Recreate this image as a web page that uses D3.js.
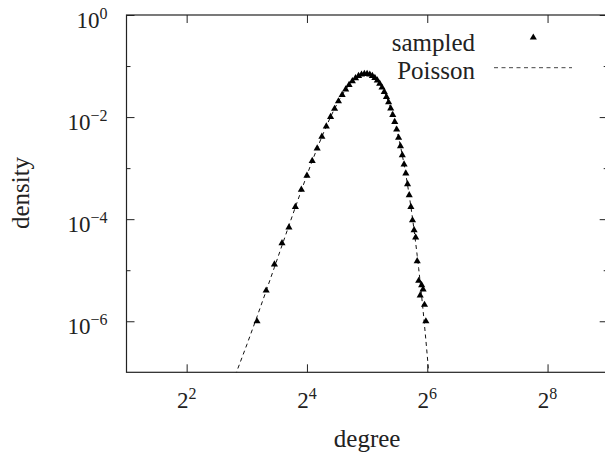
<!DOCTYPE html>
<html>
<head>
<meta charset="utf-8">
<script src="https://cdn.jsdelivr.net/npm/d3@7/dist/d3.min.js"></script>
<style>
	body { margin: 0; background: #fff; }
	svg { display: block; }
	svg text, svg tspan { font-family: "Liberation Serif", "Times New Roman", Times, serif !important; }
</style>
</head>
<body>
<script>
// sampled degree distribution
var sampledDegree = [9, 10, 11, 12, 13, 14, 15, 16, 17, 18, 19, 20, 21, 22, 23, 24, 25, 26, 27, 28,
	29, 30, 31, 32, 33, 34, 35, 36, 37, 38, 39, 40, 41, 42, 43, 44, 45, 46, 47, 48,
	49, 50, 51, 52, 53, 54, 55, 56, 57, 58, 59, 60, 61, 62, 63];
var sampledDensity = [1.0e-6, 4.0e-6, 1.3e-5, 3.4e-5, 6.9e-5, 1.74e-4, 3.8e-4, 7.1e-4, 1.39e-3, 2.43e-3,
	4.15e-3, 6.55e-3, 1.010e-2, 1.457e-2, 2.04e-2, 2.71e-2, 3.48e-2, 4.27e-2, 5.07e-2, 5.80e-2,
	6.39e-2, 6.82e-2, 7.03e-2, 7.04e-2, 6.83e-2, 6.42e-2, 5.87e-2, 5.22e-2, 4.51e-2, 3.80e-2,
	3.12e-2, 2.49e-2, 1.95e-2, 1.48e-2, 1.10e-2, 8.05e-3, 5.70e-3, 3.96e-3, 2.70e-3, 1.80e-3,
	1.18e-3, 7.87e-4, 4.85e-4, 2.96e-4, 1.74e-4, 9.5e-5, 6.1e-5, 4.4e-5, 1.5e-5, 6.2e-6,
	3.2e-6, 5.1e-6, 4.2e-6, 2.1e-6, 1.0e-6];

// Poisson reference curve
var poissonDegree = [7, 8, 9, 10, 11, 12, 13, 14, 15, 16, 17, 18, 19, 20, 21, 22, 23, 24, 25, 26,
	27, 28, 29, 30, 31, 32, 33, 34, 35, 36, 37, 38, 39, 40, 41, 42, 43, 44, 45, 46,
	47, 48, 49, 50, 51, 52, 53, 54, 55, 56, 57, 58, 59, 60, 61, 62, 63, 64, 65, 66];
var poissonDensity = [8.64e-8, 3.454e-7, 1.228e-6, 3.93e-6, 1.143e-5, 3.048e-5, 7.50e-5, 1.716e-4, 3.66e-4, 7.32e-4,
	1.378e-3, 2.449e-3, 4.124e-3, 6.60e-3, 1.006e-2, 1.463e-2, 2.035e-2, 2.714e-2, 3.475e-2, 4.277e-2,
	5.068e-2, 5.792e-2, 6.392e-2, 6.818e-2, 7.038e-2, 7.038e-2, 6.825e-2, 6.424e-2, 5.871e-2, 5.218e-2,
	4.514e-2, 3.801e-2, 3.119e-2, 2.495e-2, 1.948e-2, 1.484e-2, 1.104e-2, 8.03e-3, 5.71e-3, 3.97e-3,
	2.70e-3, 1.803e-3, 1.177e-3, 7.53e-4, 4.73e-4, 2.909e-4, 1.757e-4, 1.041e-4, 6.05e-5, 3.459e-5,
	1.942e-5, 1.072e-5, 5.81e-6, 3.10e-6, 1.626e-6, 8.39e-7, 4.26e-7, 2.131e-7, 1.049e-7, 5.09e-8];

// ticks
var xTicks = [4, 16, 64, 256];
var xTickExp = ["2", "4", "6", "8"];
var yTicks = [1, 1e-2, 1e-4, 1e-6];
var yTickExp = ["0", "\u22122", "\u22124", "\u22126"];
var yMinorTicks = [1e-1, 1e-3, 1e-5];

var legendNames = ["sampled", "Poisson"];

var margin = { left: 126.5, top: 15 };
var width = 481.2;
var height = 357.3;

var svg = d3.select("body")
	.append("svg")
	.attr("width", 605)
	.attr("height", 466);

var g = svg.append("g")
	.attr("transform", "translate(" + margin.left + ", " + margin.top + ")");

// every text gets the serif face directly
function label(parent, size){
	return parent.append("text")
		.attr("font-family", "Liberation Serif")
		.style("font-family", "'Liberation Serif'")
		.style("font-size", size + "px")
		.attr("fill", "#222");
}

// Scales
var x = d3.scaleLog()
	.base(2)
	.domain([2, 512])
	.range([0, width]);
var y = d3.scaleLog()
	.domain([1e-7, 1])
	.range([height, 0]);

// clip for the curve
g.append("clipPath")
	.attr("id", "plot-clip")
	.append("rect")
	.attr("width", width)
	.attr("height", height);

// Axes (inward ticks, mirrored on top/right)
function tickAxis(axisFn, values, size){
	return axisFn.tickValues(values).tickSizeInner(-size).tickSizeOuter(0).tickFormat("");
}

g.append("g")
	.attr("transform", "translate(0, " + height + ")")
	.call(tickAxis(d3.axisBottom(x), xTicks, 8));
g.append("g")
	.call(tickAxis(d3.axisTop(x), xTicks, 8));
g.append("g")
	.call(tickAxis(d3.axisLeft(y), yTicks, 8));
g.append("g")
	.call(tickAxis(d3.axisLeft(y), yMinorTicks, 4));
g.append("g")
	.attr("transform", "translate(" + width + ", 0)")
	.call(tickAxis(d3.axisRight(y), yTicks, 8));
g.append("g")
	.attr("transform", "translate(" + width + ", 0)")
	.call(tickAxis(d3.axisRight(y), yMinorTicks, 4));

g.selectAll(".domain").remove();
g.selectAll(".tick line").attr("stroke", "#222").attr("stroke-width", 1);

// frame
g.append("rect")
	.attr("width", width)
	.attr("height", height)
	.attr("fill", "none")
	.attr("stroke", "#222")
	.attr("stroke-width", 1.2);

// tick labels with superscripts
xTicks.forEach(function(v, i){
	var t = label(g, 23)
		.attr("x", x(v))
		.attr("y", height + 36)
		.attr("text-anchor", "middle");
	t.append("tspan").text("2");
	t.append("tspan").attr("dy", -9).style("font-size", "16px").text(xTickExp[i]);
});

yTicks.forEach(function(v, i){
	var t = label(g, 23)
		.attr("x", -19)
		.attr("y", y(v) + 12.5)
		.attr("text-anchor", "end");
	t.append("tspan").text("10");
	t.append("tspan").attr("dy", -9).style("font-size", "16px").text(yTickExp[i]);
});

// axis titles
label(g, 25)
	.attr("x", width / 2)
	.attr("y", height + 75)
	.attr("text-anchor", "middle")
	.text("degree");

label(g, 25)
	.attr("transform", "rotate(-90)")
	.attr("x", -(193 - margin.top))
	.attr("y", -margin.left + 29)
	.attr("text-anchor", "middle")
	.text("density");

// Poisson curve
var poissonData = poissonDegree.map(function(k, i){ return { k: k, p: poissonDensity[i] }; });
var line = d3.line()
	.x(function(d){ return x(d.k); })
	.y(function(d){ return y(d.p); });

g.append("path")
	.datum(poissonData)
	.attr("clip-path", "url(#plot-clip)")
	.attr("fill", "none")
	.attr("stroke", "#111")
	.attr("stroke-width", 1)
	.attr("stroke-dasharray", "4,3.5")
	.attr("d", line);

// sampled points
var sampledData = sampledDegree.map(function(k, i){ return { k: k, p: sampledDensity[i] }; });
var triangle = d3.symbol().type(d3.symbolTriangle).size(22);

g.selectAll(".pt")
	.data(sampledData)
	.enter()
	.append("path")
	.attr("class", "pt")
	.attr("d", triangle)
	.attr("fill", "#000")
	.attr("transform", function(d){
		return "translate(" + x(d.k) + ", " + y(d.p) + ")";
	});

// legend
var legend = svg.append("g");

label(legend, 25)
	.attr("x", 475)
	.attr("y", 50.5)
	.attr("text-anchor", "end")
	.text(legendNames[0]);
legend.append("path")
	.attr("d", triangle)
	.attr("fill", "#000")
	.attr("transform", "translate(533.3, 37.5)");

label(legend, 25)
	.attr("x", 475)
	.attr("y", 79)
	.attr("text-anchor", "end")
	.text(legendNames[1]);
legend.append("line")
	.attr("x1", 494)
	.attr("x2", 572)
	.attr("y1", 67.7)
	.attr("y2", 67.7)
	.attr("stroke", "#444")
	.attr("stroke-width", 1)
	.attr("stroke-dasharray", "4,3.5");
</script>
</body>
</html>
